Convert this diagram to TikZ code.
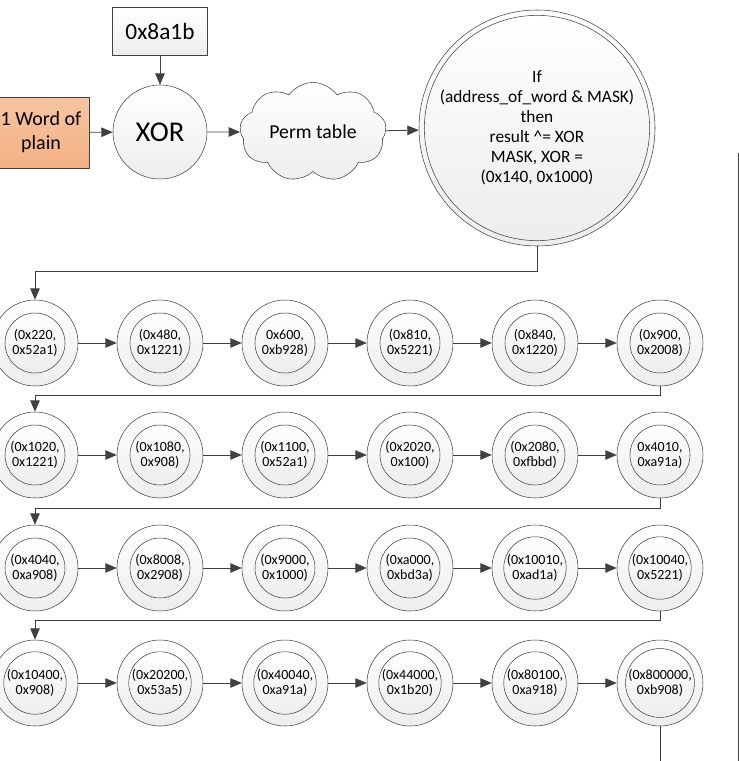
\documentclass[tikz,border=0pt]{standalone}
\usepackage{fontspec}
\setmainfont{Carlito}
\usepackage{tikz}
\usetikzlibrary{shapes,arrows.meta,positioning,calc}
\definecolor{chainline}{HTML}{404040}
\definecolor{chainorange}{HTML}{F4B183}
\definecolor{chaingray}{HTML}{EDEDED}
\tikzstyle{arrow} = [-{Triangle[length=3mm,width=2.5mm]}, semithick, chainline]
\tikzstyle{ring} = [circle, draw=chainline, thin, top color=white, bottom color=chaingray, inner sep=0pt]

\begin{document}
\begin{tikzpicture}[x=0.75pt, y=-0.75pt, font=\fontsize{10.5}{11.3}\selectfont]
\useasboundingbox (0,0) rectangle (739,761);

% top part
\node[draw=chainline, thin, top color=white, bottom color=chaingray, minimum width=71pt, minimum height=36pt, font=\fontsize{17.5}{20}\selectfont] (key) at (160,31) {0x8a1b};
\node[ring, minimum size=70.5pt, font=\fontsize{21.5}{24}\selectfont] (xor) at (160,132) {XOR};
\node[draw=chainline, thin, top color=chainorange!75, bottom color=chainorange, minimum width=72pt, minimum height=53pt, align=center, font=\fontsize{15}{18}\selectfont] (plain) at (41,132.5) {1 Word of\\plain};
\node[cloud, cloud puffs=9, cloud puff arc=110, aspect=1.5, draw=chainline, thin, top color=white, bottom color=chaingray, minimum width=110pt, minimum height=74pt, inner sep=0pt, font=\fontsize{14.8}{17}\selectfont] (perm) at (313,132) {Perm table};
\node[ring, minimum size=177pt] (cond) at (537,128) {};
\node[ring, minimum size=156pt, align=center, font=\fontsize{13}{15}\selectfont] (condtext) at (cond) {If\\(address\_of\_word \& MASK)\\then\\result \textasciicircum= XOR\\MASK, XOR =\\(0x140, 0x1000)};

\draw[arrow] (key) -- (xor);
\draw[arrow] (plain) -- (xor);
\draw[arrow] (xor) -- (perm);
\draw[arrow] (perm) -- (cond);

% chain of (MASK, XOR) pairs
\foreach \r/\y/\row in {1/343/{{(0x220,\\0x52a1)},{(0x480,\\0x1221)},{0x600,\\0xb928)},{(0x810,\\0x5221)},{(0x840,\\0x1220)},{(0x900,\\0x2008)}},
                        2/455/{{(0x1020,\\0x1221)},{(0x1080,\\0x908)},{(0x1100,\\0x52a1)},{(0x2020,\\0x100)},{(0x2080,\\0xfbbd)},{0x4010,\\0xa91a)}},
                        3/568/{{(0x4040,\\0xa908)},{(0x8008,\\0x2908)},{(0x9000,\\0x1000)},{(0xa000,\\0xbd3a)},{(0x10010,\\0xad1a)},{(0x10040,\\0x5221)}},
                        4/683/{{(0x10400,\\0x908)},{(0x20200,\\0x53a5)},{(0x40040,\\0xa91a)},{(0x44000,\\0x1b20)},{(0x80100,\\0xa918)},{(0x800000,\\0xb908)}}}{
  \foreach \txt [count=\c] in \row {
    \node[ring, minimum size=64.5pt] (n\r-\c) at ({35+125*(\c-1)},\y) {};
    \node[ring, minimum size=45pt, align=center] (t\r-\c) at (n\r-\c) {\txt};
  }
  \foreach \c [evaluate=\c as \n using int(\c+1)] in {1,...,5}
    \draw[arrow] (n\r-\c) -- (n\r-\n);
}

\draw[arrow] (cond.south) -- ++(0,25) -| (n1-1.north);
\draw[arrow] (n1-6.south) -- ++(0,9) -| (n2-1.north);
\draw[arrow] (n2-6.south) -- ++(0,10) -| (n3-1.north);
\draw[arrow] (n3-6.south) -- ++(0,9) -| (n4-1.north);

\coordinate (chainend) at (660,761);
\draw[semithick, chainline] (n4-6.south) -- (chainend);
\coordinate (edgetop) at (738,153);
\coordinate (edgebot) at (738,761);
\draw[semithick, chainline] (edgetop) -- (edgebot);
\end{tikzpicture}
\end{document}
